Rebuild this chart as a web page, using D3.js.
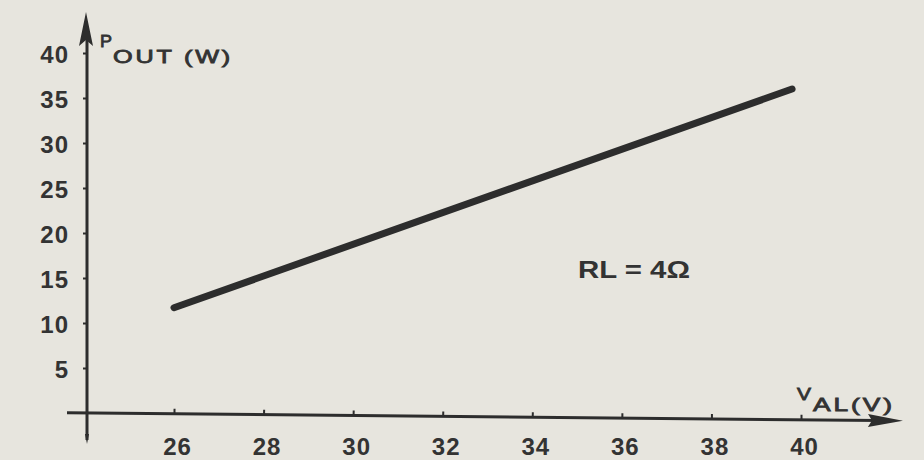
<!DOCTYPE html>
<html>
<head>
<meta charset="utf-8">
<script src="https://cdn.jsdelivr.net/npm/d3@7"></script>
<style>
  body { margin: 0; background: #e7e5de; }
  svg { display: block; }
  text { font-family: "Liberation Sans", Arial, sans-serif; font-weight: bold; fill: #333; }
  .title { font-weight: normal; stroke: #333; stroke-width: 0.8px; }
</style>
</head>
<body>
<svg id="chart" width="924" height="460"></svg>
<script>
// supply voltage (V) vs output power (W), RL = 4 ohm
const vSupply = [26, 39.8]
const pOut = [11.7, 36]
const xTicks = [26, 28, 30, 32, 34, 36, 38, 40]
const yTicks = [5, 10, 15, 20, 25, 30, 35, 40]

const ink = '#2d2d2d'
const svg = d3.select('#chart')

const x = d3.scaleLinear().domain([26, 40]).range([174, 801])
const y = d3.scaleLinear().domain([0, 40]).range([413, 53])
const x0 = 87

// x axis line + tick marks (the scan is a little tilted)
const gx = svg.append('g')
    .attr('transform', `rotate(0.55, ${x0}, ${y(0)})`)
gx.append('line')
    .attr('x1', 67).attr('x2', 880)
    .attr('y1', y(0)).attr('y2', y(0))
    .attr('stroke', ink).attr('stroke-width', 3)
gx.append('path')
    .attr('d', `M903,${y(0)} L868,${y(0) - 6.5} L872,${y(0)} L868,${y(0) + 6.5} Z`)
    .attr('fill', ink)
const axTicks = gx.append('g')
    .attr('transform', `translate(0,${y(0)})`)
    .call(d3.axisBottom(x).tickValues(xTicks).tickSize(-5).tickFormat(''))
axTicks.select('.domain').remove()
axTicks.selectAll('.tick line').attr('stroke', ink).attr('stroke-width', 2)

// x tick labels stay level
const axLabels = svg.append('g')
    .attr('transform', `translate(3,${y(0) - 1})`)
    .call(d3.axisBottom(x).tickValues(xTicks).tickSize(0).tickPadding(26))
axLabels.select('.domain').remove()
axLabels.selectAll('.tick text')
    .style('font-size', '24px').style('letter-spacing', '1px').attr('fill', '#333')

// y axis
svg.append('line')
    .attr('x1', x0).attr('x2', x0)
    .attr('y1', 440).attr('y2', 40)
    .attr('stroke', ink).attr('stroke-width', 3)
svg.append('path')
    .attr('d', `M${x0 - 1},12 L${x0 - 8},46 L${x0 - 1},40 L${x0 + 6},46 Z`)
    .attr('fill', ink)
svg.append('path')
    .attr('d', `M${x0},444 L${x0 - 2},434 L${x0 + 2},434 Z`)
    .attr('fill', ink)
const ay = svg.append('g')
    .attr('transform', `translate(${x0},0)`)
    .call(d3.axisLeft(y).tickValues(yTicks).tickSize(4).tickPadding(14))
ay.select('.domain').remove()
ay.selectAll('.tick line').attr('stroke', ink).attr('stroke-width', 2)
ay.selectAll('.tick text')
    .attr('dy', '0.4em')
    .style('font-size', '24px').style('letter-spacing', '1px').attr('fill', '#333')

// data line
const line = d3.line()
    .x(d => x(d[0]))
    .y(d => y(d[1]))
svg.append('path')
    .datum(d3.zip(vSupply, pOut))
    .attr('fill', 'none')
    .attr('stroke', ink)
    .attr('stroke-width', 7)
    .attr('stroke-linecap', 'round')
    .attr('d', line)

// axis titles
svg.append('text').attr('class', 'title').attr('x', 100).attr('y', 47)
    .attr('textLength', 12).attr('lengthAdjust', 'spacingAndGlyphs')
    .style('font-size', '17px').text('P')
svg.append('text').attr('class', 'title').attr('x', 113).attr('y', 63)
    .attr('textLength', 120).attr('lengthAdjust', 'spacingAndGlyphs')
    .style('font-size', '18px').style('letter-spacing', '2px').text('OUT (W)')

svg.append('text').attr('class', 'title').attr('x', 797).attr('y', 400)
    .attr('textLength', 14).attr('lengthAdjust', 'spacingAndGlyphs')
    .style('font-size', '17px').text('V')
svg.append('text').attr('class', 'title').attr('x', 813).attr('y', 411)
    .attr('textLength', 82).attr('lengthAdjust', 'spacingAndGlyphs')
    .style('font-size', '18px').style('letter-spacing', '2px').text('AL(V)')

svg.append('text')
    .attr('x', 578).attr('y', 278)
    .attr('textLength', 112).attr('lengthAdjust', 'spacingAndGlyphs')
    .style('font-size', '23px')
    .text('RL = 4\u03A9')
</script>
</body>
</html>
